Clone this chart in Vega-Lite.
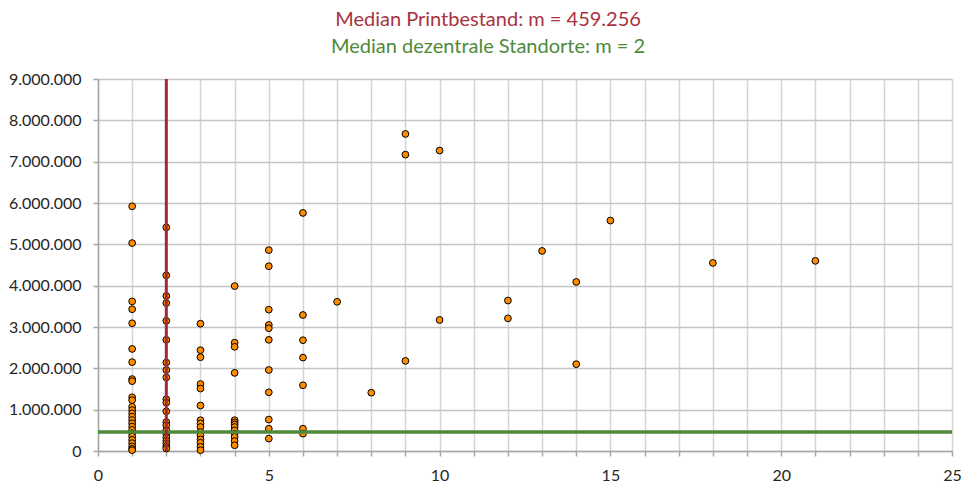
{
  "$schema": "https://vega.github.io/schema/vega-lite/v6.json",
  "width": 854,
  "height": 372,
  "autosize": "none",
  "padding": {"left": 98, "top": 79, "right": 17, "bottom": 34},
  "background": "white",
  "config": {
    "locale": {"number": {"decimal": ",", "thousands": ".", "grouping": [3], "currency": ["", " €"]}},
    "view": {"stroke": null},
    "font": "Lato"
  },
  "title": {
    "text": "Median Printbestand: m = 459.256",
    "subtitle": "Median dezentrale Standorte: m = 2",
    "color": "#A8323F",
    "subtitleColor": "#4E8A3A",
    "font": "Lato",
    "subtitleFont": "Lato",
    "fontSize": 20,
    "subtitleFontSize": 20,
    "fontWeight": "normal",
    "subtitleFontWeight": "normal",
    "anchor": "middle",
    "dx": -37,
    "offset": 14,
    "subtitlePadding": 7
  },
  "datasets": {
    "bibliotheken": [
      {"standorte": 1, "printbestand": 5920000},
      {"standorte": 1, "printbestand": 5030000},
      {"standorte": 1, "printbestand": 3620000},
      {"standorte": 1, "printbestand": 3430000},
      {"standorte": 1, "printbestand": 3090000},
      {"standorte": 1, "printbestand": 2470000},
      {"standorte": 1, "printbestand": 2150000},
      {"standorte": 1, "printbestand": 1740000},
      {"standorte": 1, "printbestand": 1690000},
      {"standorte": 1, "printbestand": 1300000},
      {"standorte": 1, "printbestand": 1230000},
      {"standorte": 1, "printbestand": 1070000},
      {"standorte": 1, "printbestand": 990000},
      {"standorte": 1, "printbestand": 910000},
      {"standorte": 1, "printbestand": 830000},
      {"standorte": 1, "printbestand": 750000},
      {"standorte": 1, "printbestand": 670000},
      {"standorte": 1, "printbestand": 590000},
      {"standorte": 1, "printbestand": 510000},
      {"standorte": 1, "printbestand": 430000},
      {"standorte": 1, "printbestand": 350000},
      {"standorte": 1, "printbestand": 270000},
      {"standorte": 1, "printbestand": 190000},
      {"standorte": 1, "printbestand": 110000},
      {"standorte": 1, "printbestand": 50000},
      {"standorte": 1, "printbestand": 20000},
      {"standorte": 2, "printbestand": 5410000},
      {"standorte": 2, "printbestand": 4250000},
      {"standorte": 2, "printbestand": 3750000},
      {"standorte": 2, "printbestand": 3580000},
      {"standorte": 2, "printbestand": 3150000},
      {"standorte": 2, "printbestand": 2690000},
      {"standorte": 2, "printbestand": 2140000},
      {"standorte": 2, "printbestand": 1960000},
      {"standorte": 2, "printbestand": 1780000},
      {"standorte": 2, "printbestand": 1250000},
      {"standorte": 2, "printbestand": 1170000},
      {"standorte": 2, "printbestand": 960000},
      {"standorte": 2, "printbestand": 700000},
      {"standorte": 2, "printbestand": 620000},
      {"standorte": 2, "printbestand": 500000},
      {"standorte": 2, "printbestand": 410000},
      {"standorte": 2, "printbestand": 330000},
      {"standorte": 2, "printbestand": 250000},
      {"standorte": 2, "printbestand": 180000},
      {"standorte": 2, "printbestand": 110000},
      {"standorte": 2, "printbestand": 60000},
      {"standorte": 3, "printbestand": 3080000},
      {"standorte": 3, "printbestand": 2440000},
      {"standorte": 3, "printbestand": 2270000},
      {"standorte": 3, "printbestand": 1620000},
      {"standorte": 3, "printbestand": 1510000},
      {"standorte": 3, "printbestand": 1100000},
      {"standorte": 3, "printbestand": 745000},
      {"standorte": 3, "printbestand": 665000},
      {"standorte": 3, "printbestand": 580000},
      {"standorte": 3, "printbestand": 460000},
      {"standorte": 3, "printbestand": 380000},
      {"standorte": 3, "printbestand": 280000},
      {"standorte": 3, "printbestand": 200000},
      {"standorte": 3, "printbestand": 100000},
      {"standorte": 3, "printbestand": 20000},
      {"standorte": 4, "printbestand": 3990000},
      {"standorte": 4, "printbestand": 2620000},
      {"standorte": 4, "printbestand": 2520000},
      {"standorte": 4, "printbestand": 1890000},
      {"standorte": 4, "printbestand": 745000},
      {"standorte": 4, "printbestand": 690000},
      {"standorte": 4, "printbestand": 640000},
      {"standorte": 4, "printbestand": 580000},
      {"standorte": 4, "printbestand": 500000},
      {"standorte": 4, "printbestand": 420000},
      {"standorte": 4, "printbestand": 340000},
      {"standorte": 4, "printbestand": 240000},
      {"standorte": 4, "printbestand": 140000},
      {"standorte": 5, "printbestand": 4860000},
      {"standorte": 5, "printbestand": 4470000},
      {"standorte": 5, "printbestand": 3420000},
      {"standorte": 5, "printbestand": 3050000},
      {"standorte": 5, "printbestand": 2970000},
      {"standorte": 5, "printbestand": 2690000},
      {"standorte": 5, "printbestand": 1960000},
      {"standorte": 5, "printbestand": 1420000},
      {"standorte": 5, "printbestand": 760000},
      {"standorte": 5, "printbestand": 540000},
      {"standorte": 5, "printbestand": 300000},
      {"standorte": 6, "printbestand": 5760000},
      {"standorte": 6, "printbestand": 3290000},
      {"standorte": 6, "printbestand": 2680000},
      {"standorte": 6, "printbestand": 2260000},
      {"standorte": 6, "printbestand": 1590000},
      {"standorte": 6, "printbestand": 540000},
      {"standorte": 6, "printbestand": 420000},
      {"standorte": 7, "printbestand": 3610000},
      {"standorte": 8, "printbestand": 1410000},
      {"standorte": 9, "printbestand": 7670000},
      {"standorte": 9, "printbestand": 7170000},
      {"standorte": 9, "printbestand": 2180000},
      {"standorte": 10, "printbestand": 7270000},
      {"standorte": 10, "printbestand": 3170000},
      {"standorte": 12, "printbestand": 3640000},
      {"standorte": 12, "printbestand": 3210000},
      {"standorte": 13, "printbestand": 4840000},
      {"standorte": 14, "printbestand": 4090000},
      {"standorte": 14, "printbestand": 2100000},
      {"standorte": 15, "printbestand": 5575000},
      {"standorte": 18, "printbestand": 4550000},
      {"standorte": 21, "printbestand": 4600000}
    ],
    "mediane": [
      {"standorte_median": 2, "printbestand_median": 459256}
    ]
  },
  "layer": [
    {
      "data": {"name": "bibliotheken"},
      "mark": {"type": "circle", "size": 46, "color": "#FF8C00", "stroke": "#000000", "strokeWidth": 1, "opacity": 1},
      "encoding": {
        "x": {
          "field": "standorte",
          "type": "quantitative",
          "title": null,
          "scale": {"domain": [0, 25], "nice": false, "zero": false},
          "axis": {
            "values": [0, 1, 2, 3, 4, 5, 6, 7, 8, 9, 10, 11, 12, 13, 14, 15, 16, 17, 18, 19, 20, 21, 22, 23, 24, 25],
            "tickCount": 30,
            "format": "d",
            "labelExpr": "datum.value % 5 === 0 ? datum.label : ''",
            "labelFlush": false,
            "labelOverlap": false,
            "labelFont": "Lato",
            "labelFontSize": 16,
            "labelColor": "#262626",
            "labelPadding": 11,
            "grid": true,
            "gridColor": "#D4D4D4",
            "gridWidth": 1.5,
            "domainColor": "#A6A6A6",
            "domainWidth": 1.5,
            "tickColor": "#A6A6A6",
            "tickWidth": 1.5,
            "tickSize": 5
          }
        },
        "y": {
          "field": "printbestand",
          "type": "quantitative",
          "title": null,
          "scale": {"domain": [0, 9000000], "nice": false},
          "axis": {
            "values": [0, 1000000, 2000000, 3000000, 4000000, 5000000, 6000000, 7000000, 8000000, 9000000],
            "tickCount": 12,
            "format": ",d",
            "labelFlush": false,
            "labelOverlap": false,
            "labelFont": "Lato",
            "labelFontSize": 16,
            "labelColor": "#262626",
            "labelPadding": 12,
            "grid": true,
            "gridColor": "#C4C4C4",
            "gridWidth": 1.5,
            "domainColor": "#A6A6A6",
            "domainWidth": 1.5,
            "tickColor": "#A6A6A6",
            "tickWidth": 1.5,
            "tickSize": 5
          }
        }
      }
    },
    {
      "data": {"name": "mediane"},
      "mark": {"type": "rule", "color": "#4F8A3C", "strokeWidth": 3.5},
      "encoding": {
        "y": {"field": "printbestand_median", "type": "quantitative", "title": null}
      }
    },
    {
      "data": {"name": "mediane"},
      "mark": {"type": "rule", "color": "#A3283B", "strokeWidth": 3},
      "encoding": {
        "x": {"field": "standorte_median", "type": "quantitative", "title": null}
      }
    }
  ]
}
